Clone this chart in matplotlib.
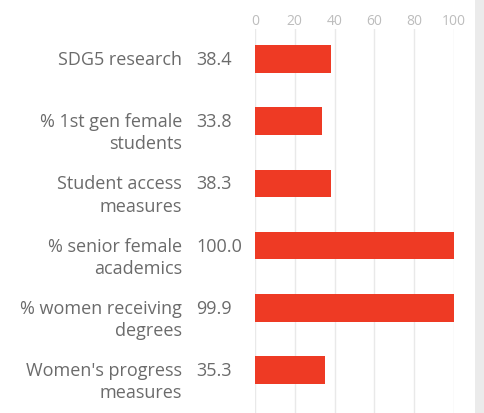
import matplotlib
matplotlib.use("Agg")
import matplotlib.pyplot as plt
from matplotlib.patches import Rectangle
import matplotlib.transforms as mtransforms

categories = [
    "SDG5 research",
    "% 1st gen female\nstudents",
    "Student access\nmeasures",
    "% senior female\nacademics",
    "% women receiving\ndegrees",
    "Women's progress\nmeasures",
]
values = [38.4, 33.8, 38.3, 100.0, 99.9, 35.3]
xticks = [0, 20, 40, 60, 80, 100]

plt.rcParams['font.family'] = ['Open Sans', 'DejaVu Sans']

W, H = 484, 414
fig = plt.figure(figsize=(W / 100, H / 100), dpi=100)
fig.patch.set_facecolor('white')

# right gray strip
fig.patches.append(Rectangle((475 / W, 0), 1 - 475 / W, 1, transform=fig.transFigure,
                             facecolor='#ebebeb', edgecolor='none', zorder=0))

left_px, right_px = 255, 454
top_px, bot_px = 30, 414
ax = fig.add_axes([left_px / W, 1 - bot_px / H, (right_px - left_px) / W, (bot_px - top_px) / H])
ax.set_facecolor('none')

ypos = list(range(len(values)))
ax.barh(ypos, values, height=0.44, color='#ee3a24', zorder=3)
ax.set_xlim(0, 100)
ax.set_ylim(5.69, -0.48)

ax.set_xticks(xticks)
ax.set_xticklabels([str(t) for t in xticks])
ax.xaxis.tick_top()
ax.tick_params(axis='x', length=0, pad=1, labelsize=10, labelcolor='#bdbdbd')
ax.set_yticks([])
ax.grid(axis='x', color='#e9e9e9', linewidth=1, zorder=0)
for s in ax.spines.values():
    s.set_visible(False)

trans = mtransforms.blended_transform_factory(ax.transAxes, ax.transData)
lab_x = (182 - left_px) / (right_px - left_px)
val_x = (196 - left_px) / (right_px - left_px)
fs = 13
off = mtransforms.offset_copy(trans, fig=fig, x=0, y=6.5, units='points')
for i, (c, v) in enumerate(zip(categories, values)):
    ax.text(lab_x, i, c, transform=off, ha='right', va='top', fontsize=fs,
            color='#6b6b6b', linespacing=1.3)
    ax.text(val_x, i, f"{v:.1f}", transform=off, ha='left', va='top', fontsize=fs,
            color='#6b6b6b')

fig.savefig('out.png', dpi=100)
